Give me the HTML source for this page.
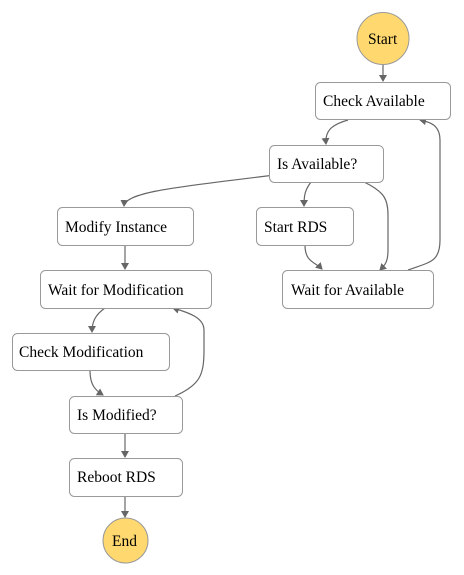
<!DOCTYPE html>
<html><head><meta charset="utf-8"><style>
html,body{margin:0;padding:0;background:#fff;width:464px;height:575px;overflow:hidden}
text{font-family:"Liberation Serif",serif;font-size:15.5px;fill:#000}
</style></head><body>
<svg width="464" height="575" viewBox="0 0 464 575" xmlns="http://www.w3.org/2000/svg">
<defs><marker id="a" markerWidth="8" markerHeight="8" refX="6" refY="4" orient="auto" markerUnits="userSpaceOnUse"><path d="M0,0 L7,4 L0,8 z" fill="#666"/></marker></defs>
<g fill="none" stroke="#666" stroke-width="1.2" marker-end="url(#a)">
<path d="M383,64 L383,81"/>
<path d="M348,120 C330,125 325,132 326,144"/>
<path d="M290,173 C200,185 125,190 124,206"/>
<path d="M311,182 C305,190 304,195 304,206"/>
<path d="M364,182 C385,192 388,200 388,215 L388,250 C388,262 385,265 380,270"/>
<path d="M305,245 C305,262 315,262 322,269"/>
<path d="M408,270 C430,262 440,262 440,240 L440,140 C440,125 430,122 420,120"/>
<path d="M125,245 L125,269"/>
<path d="M105,308 C95,315 92,322 92,332"/>
<path d="M90,370 C90,385 95,390 103,395"/>
<path d="M175,396 C200,385 204,375 204,350 L204,330 C204,318 190,313 173,308"/>
<path d="M125,433 L125,457"/>
<path d="M125,496 L125,517"/>
</g>
<g fill="#fff" stroke="#999" stroke-width="1">
<rect x="315.5" y="82.5" width="135" height="37" rx="5"/>
<rect x="269.5" y="145.5" width="114" height="37" rx="5"/>
<rect x="57.5" y="207.5" width="136" height="38" rx="5"/>
<rect x="256.5" y="207.5" width="97" height="38" rx="5"/>
<rect x="40.5" y="270.5" width="171" height="38" rx="5"/>
<rect x="282.5" y="270.5" width="151" height="38" rx="5"/>
<rect x="12.5" y="333.5" width="157" height="37" rx="5"/>
<rect x="69.5" y="396.5" width="113" height="37" rx="5"/>
<rect x="69.5" y="458.5" width="113" height="38" rx="5"/>
</g>
<circle cx="383" cy="38.5" r="26" fill="#ffd96f" stroke="#999"/>
<circle cx="125.5" cy="540.5" r="22.5" fill="#ffd96f" stroke="#999"/>
<text x="368" y="44">Start</text>
<text x="323" y="106">Check Available</text>
<text x="277" y="169">Is Available?</text>
<text x="65" y="232">Modify Instance</text>
<text x="264" y="232">Start RDS</text>
<text x="48" y="295">Wait for Modification</text>
<text x="291" y="295">Wait for Available</text>
<text x="19" y="357">Check Modification</text>
<text x="77" y="420">Is Modified?</text>
<text x="77" y="482">Reboot RDS</text>
<text x="112" y="546">End</text>
</svg>
</body></html>
